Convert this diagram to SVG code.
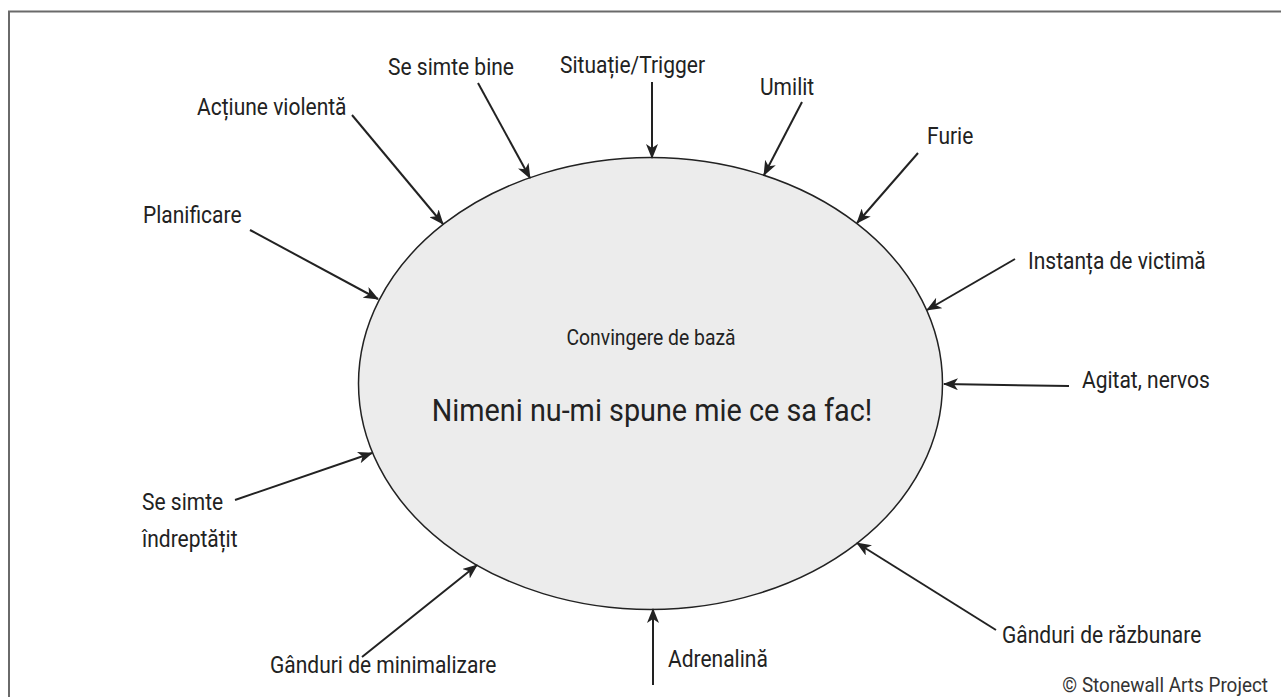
<svg xmlns="http://www.w3.org/2000/svg" width="1281" height="697" viewBox="0 0 1281 697">
  <style>
    .lbl { font-family: Roboto, "Liberation Sans", sans-serif; font-size: 23px; fill: #222; }
    .conn { stroke: #222; stroke-width: 2; fill: none; marker-end: url(#arr); }
  </style>
  <defs>
    <marker id="arr" markerUnits="userSpaceOnUse" markerWidth="15" markerHeight="12" viewBox="0 0 15 12" refX="14" refY="6" orient="auto">
      <path d="M0,0 L15,6 L0,12 L4,6 Z" fill="#222"/>
    </marker>
  </defs>
  <rect width="1281" height="697" fill="#fff"/>
  <path d="M9,697 V11.5 H1281" fill="none" stroke="#6a6a6a" stroke-width="2"/>

  <g id="core">
    <ellipse cx="650.5" cy="383.5" rx="292" ry="226" fill="#ececec" stroke="#222" stroke-width="1.5"/>
    <text class="lbl" transform="translate(651,345) scale(0.9,1)" text-anchor="middle" style="font-size:21.5px">Convingere de bază</text>
    <text class="lbl" transform="translate(652,421) scale(0.9,1)" text-anchor="middle" style="font-size:32px">Nimeni nu-mi spune mie ce sa fac!</text>
  </g>

  <g id="connectors">
    <path class="conn" d="M250,230 L378,299"/>
    <path class="conn" d="M352,115 L443,224"/>
    <path class="conn" d="M478,83 L530,178"/>
    <path class="conn" d="M652,82 L652,158"/>
    <path class="conn" d="M802,102 L764,175"/>
    <path class="conn" d="M918,153 L857,223"/>
    <path class="conn" d="M1015,259 L927,310"/>
    <path class="conn" d="M1069,386 L944,384"/>
    <path class="conn" d="M996,630 L857,543"/>
    <path class="conn" d="M653,685 L653,609"/>
    <path class="conn" d="M362,657 L477,565"/>
    <path class="conn" d="M235,500 L372,453"/>
  </g>

  <g id="planificare"><text class="lbl" transform="translate(143,223) scale(0.913,1)">Planificare</text></g>
  <g id="actiune"><text class="lbl" transform="translate(197,115) scale(0.913,1)">Acțiune violentă</text></g>
  <g id="se-simte-bine"><text class="lbl" transform="translate(388,75) scale(0.913,1)">Se simte bine</text></g>
  <g id="situatie"><text class="lbl" transform="translate(560,73) scale(0.913,1)">Situație/Trigger</text></g>
  <g id="umilit"><text class="lbl" transform="translate(760,95) scale(0.913,1)">Umilit</text></g>
  <g id="furie"><text class="lbl" transform="translate(927,144) scale(0.913,1)">Furie</text></g>
  <g id="instanta"><text class="lbl" transform="translate(1028,269) scale(0.913,1)">Instanța de victimă</text></g>
  <g id="agitat"><text class="lbl" transform="translate(1082,388) scale(0.913,1)">Agitat, nervos</text></g>
  <g id="razbunare"><text class="lbl" transform="translate(1002,643) scale(0.913,1)">Gânduri de răzbunare</text></g>
  <g id="adrenalina"><text class="lbl" transform="translate(668,667) scale(0.913,1)">Adrenalină</text></g>
  <g id="minimalizare"><text class="lbl" transform="translate(270,673) scale(0.913,1)">Gânduri de minimalizare</text></g>
  <g id="indreptatit">
    <text class="lbl" transform="translate(142,510) scale(0.913,1)">Se simte</text>
    <text class="lbl" transform="translate(142,547) scale(0.913,1)">îndreptățit</text>
  </g>
  <g id="copyright"><text class="lbl" transform="translate(1268,692) scale(0.9,1)" text-anchor="end" style="font-size:21px;fill:#333">© Stonewall Arts Project</text></g>
</svg>
